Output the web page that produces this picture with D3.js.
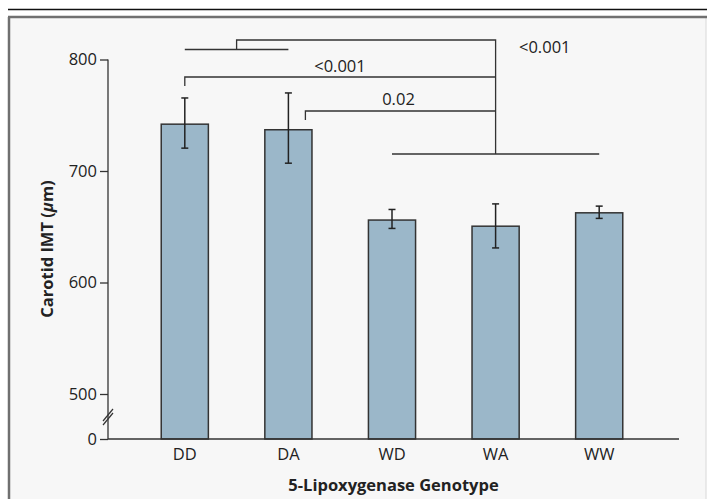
<!DOCTYPE html>
<html>
<head>
<meta charset="utf-8">
<script src="https://cdn.jsdelivr.net/npm/d3@7"></script>
<style>
  body { margin: 0; background: #fff; }
  text { font-family: "Open Sans", "Noto Sans", sans-serif; fill: #222; }
</style>
</head>
<body>
<div id="chart"></div>
<script>
// genotype groups and carotid IMT (um)
var genotypes = ["DD", "DA", "WD", "WA", "WW"];
var imtMean = [742, 737, 656, 650.5, 662.5];
var imtLow  = [720.5, 707, 648.5, 631, 657.5];
var imtHigh = [765.5, 770, 665.5, 670.5, 668.5];
var yTicks = [0, 500, 600, 700, 800];

// p values of the significance brackets
var pLabels = ["<0.001", "<0.001", "0.02"];

var width = 707, height = 499;

var svg = d3.select("#chart").append("svg")
  .attr("width", width)
  .attr("height", height);

// frame
svg.append("rect")
  .attr("x", 9).attr("y", 17)
  .attr("width", 697).attr("height", 490)
  .attr("fill", "#f7f7f7")
  .attr("stroke", "none");
svg.append("line")
  .attr("x1", 9).attr("x2", 9).attr("y1", 17).attr("y2", height)
  .attr("stroke", "#707070").attr("stroke-width", 2.5);
svg.append("line")
  .attr("x1", 706).attr("x2", 706).attr("y1", 17).attr("y2", height)
  .attr("stroke", "#d8d8d8").attr("stroke-width", 1);
svg.append("line")
  .attr("x1", 8).attr("x2", width).attr("y1", 17).attr("y2", 17)
  .attr("stroke", "#707070").attr("stroke-width", 2.5);
svg.append("line")
  .attr("x1", 8).attr("x2", width).attr("y1", 9.5).attr("y2", 9.5)
  .attr("stroke", "#111").attr("stroke-width", 1.5);

// scales; the y axis is broken between 0 and 500
var xScale = d3.scaleBand()
  .domain(genotypes)
  .range([133, 651])
  .paddingInner(0.545)
  .paddingOuter(0.2725);

var yScale = d3.scaleLinear()
  .domain([0, 500, 800])
  .range([439, 394, 59.5]);

var cx = function(g) { return xScale(g) + xScale.bandwidth() / 2; };

// bars
svg.selectAll(".bar")
  .data(genotypes)
  .enter()
  .append("rect")
  .attr("class", "bar")
  .attr("x", function(d) { return xScale(d); })
  .attr("width", xScale.bandwidth())
  .attr("y", function(d, i) { return yScale(imtMean[i]); })
  .attr("height", function(d, i) { return yScale(0) - yScale(imtMean[i]); })
  .attr("fill", "#9bb7c9")
  .attr("stroke", "#333")
  .attr("stroke-width", 1.5);

// error bars
var err = svg.selectAll(".err")
  .data(genotypes)
  .enter()
  .append("g")
  .attr("class", "err")
  .attr("stroke", "#222")
  .attr("stroke-width", 1.5);
err.append("line")
  .attr("x1", cx).attr("x2", cx)
  .attr("y1", function(d, i) { return yScale(imtLow[i]); })
  .attr("y2", function(d, i) { return yScale(imtHigh[i]); });
err.append("line")
  .attr("x1", function(d) { return cx(d) - 3.5; })
  .attr("x2", function(d) { return cx(d) + 3.5; })
  .attr("y1", function(d, i) { return yScale(imtHigh[i]); })
  .attr("y2", function(d, i) { return yScale(imtHigh[i]); });
err.append("line")
  .attr("x1", function(d) { return cx(d) - 3.5; })
  .attr("x2", function(d) { return cx(d) + 3.5; })
  .attr("y1", function(d, i) { return yScale(imtLow[i]); })
  .attr("y2", function(d, i) { return yScale(imtLow[i]); });

// y axis
var yAxis = d3.axisLeft(yScale)
  .tickValues(yTicks)
  .tickSize(8)
  .tickPadding(3)
  .tickFormat(d3.format("d"));
var gy = svg.append("g")
  .attr("transform", "translate(108,0)")
  .call(yAxis);
gy.select(".domain").attr("d", "M0," + yScale(800) + "V" + yScale(0));
gy.selectAll("path, line").attr("stroke", "#333").attr("stroke-width", 1.3);
gy.selectAll("text")
  .style("font-family", "'Open Sans', sans-serif")
  .style("font-size", "16.5px")
  .attr("fill", "#222");

// axis break marks
var yBreak = (yScale(500) + yScale(0)) / 2 + 0.5;
[-2, 2].forEach(function(off) {
  svg.append("line")
    .attr("x1", 103).attr("x2", 113)
    .attr("y1", yBreak + off + 6).attr("y2", yBreak + off - 6)
    .attr("stroke", "#333").attr("stroke-width", 1.2);
});

// x axis
var xAxis = d3.axisBottom(xScale).tickSize(0).tickPadding(9);
var gx = svg.append("g")
  .attr("transform", "translate(0," + yScale(0) + ")")
  .call(xAxis);
gx.select(".domain").attr("d", "M108,0H679").attr("stroke", "#333").attr("stroke-width", 1.3);
gx.selectAll("text")
  .style("font-family", "'Open Sans', sans-serif")
  .style("font-size", "16.5px")
  .attr("fill", "#222");

// axis titles
svg.append("text")
  .attr("x", 393.5).attr("y", 491)
  .attr("text-anchor", "middle")
  .style("font-size", "16.5px")
  .style("font-weight", "bold")
  .text("5-Lipoxygenase Genotype");
var yt = svg.append("text")
  .attr("transform", "translate(53,249) rotate(-90)")
  .attr("text-anchor", "middle")
  .style("font-size", "16.5px")
  .style("font-weight", "bold");
yt.append("tspan").text("Carotid IMT (");
yt.append("tspan").style("font-style", "italic").text("\u03bc");
yt.append("tspan").text("m)");

// significance brackets
var br = svg.append("g")
  .attr("fill", "none")
  .attr("stroke", "#333")
  .attr("stroke-width", 1.3);
var joinX = cx("WA");
var topY = 40, ddY = 77, daY = 111, wY = 154;
// DD+DA vs. W groups
br.append("path")
  .attr("d", "M" + cx("DD") + "," + 49.5 + "H" + cx("DA") +
    "M" + ((cx("DD") + cx("DA")) / 2) + "," + 49.5 + "V" + topY + "H" + joinX + "V" + wY);
br.append("path").attr("d", "M" + cx("WD") + "," + wY + "H" + cx("WW"));
// DD vs. W groups
br.append("path")
  .attr("d", "M" + cx("DD") + "," + (ddY + 9) + "V" + ddY + "H" + joinX);
// DA vs. W groups
br.append("path")
  .attr("d", "M" + (cx("DA") + 17) + "," + (daY + 9) + "V" + daY + "H" + joinX);

svg.append("text")
  .attr("x", 519).attr("y", 53)
  .style("font-size", "16.5px")
  .text(pLabels[0]);
svg.append("text")
  .attr("x", 340).attr("y", 71.5)
  .attr("text-anchor", "middle")
  .style("font-size", "16.5px")
  .text(pLabels[1]);
svg.append("text")
  .attr("x", 398.5).attr("y", 104.5)
  .attr("text-anchor", "middle")
  .style("font-size", "16.5px")
  .text(pLabels[2]);
</script>
</body>
</html>
